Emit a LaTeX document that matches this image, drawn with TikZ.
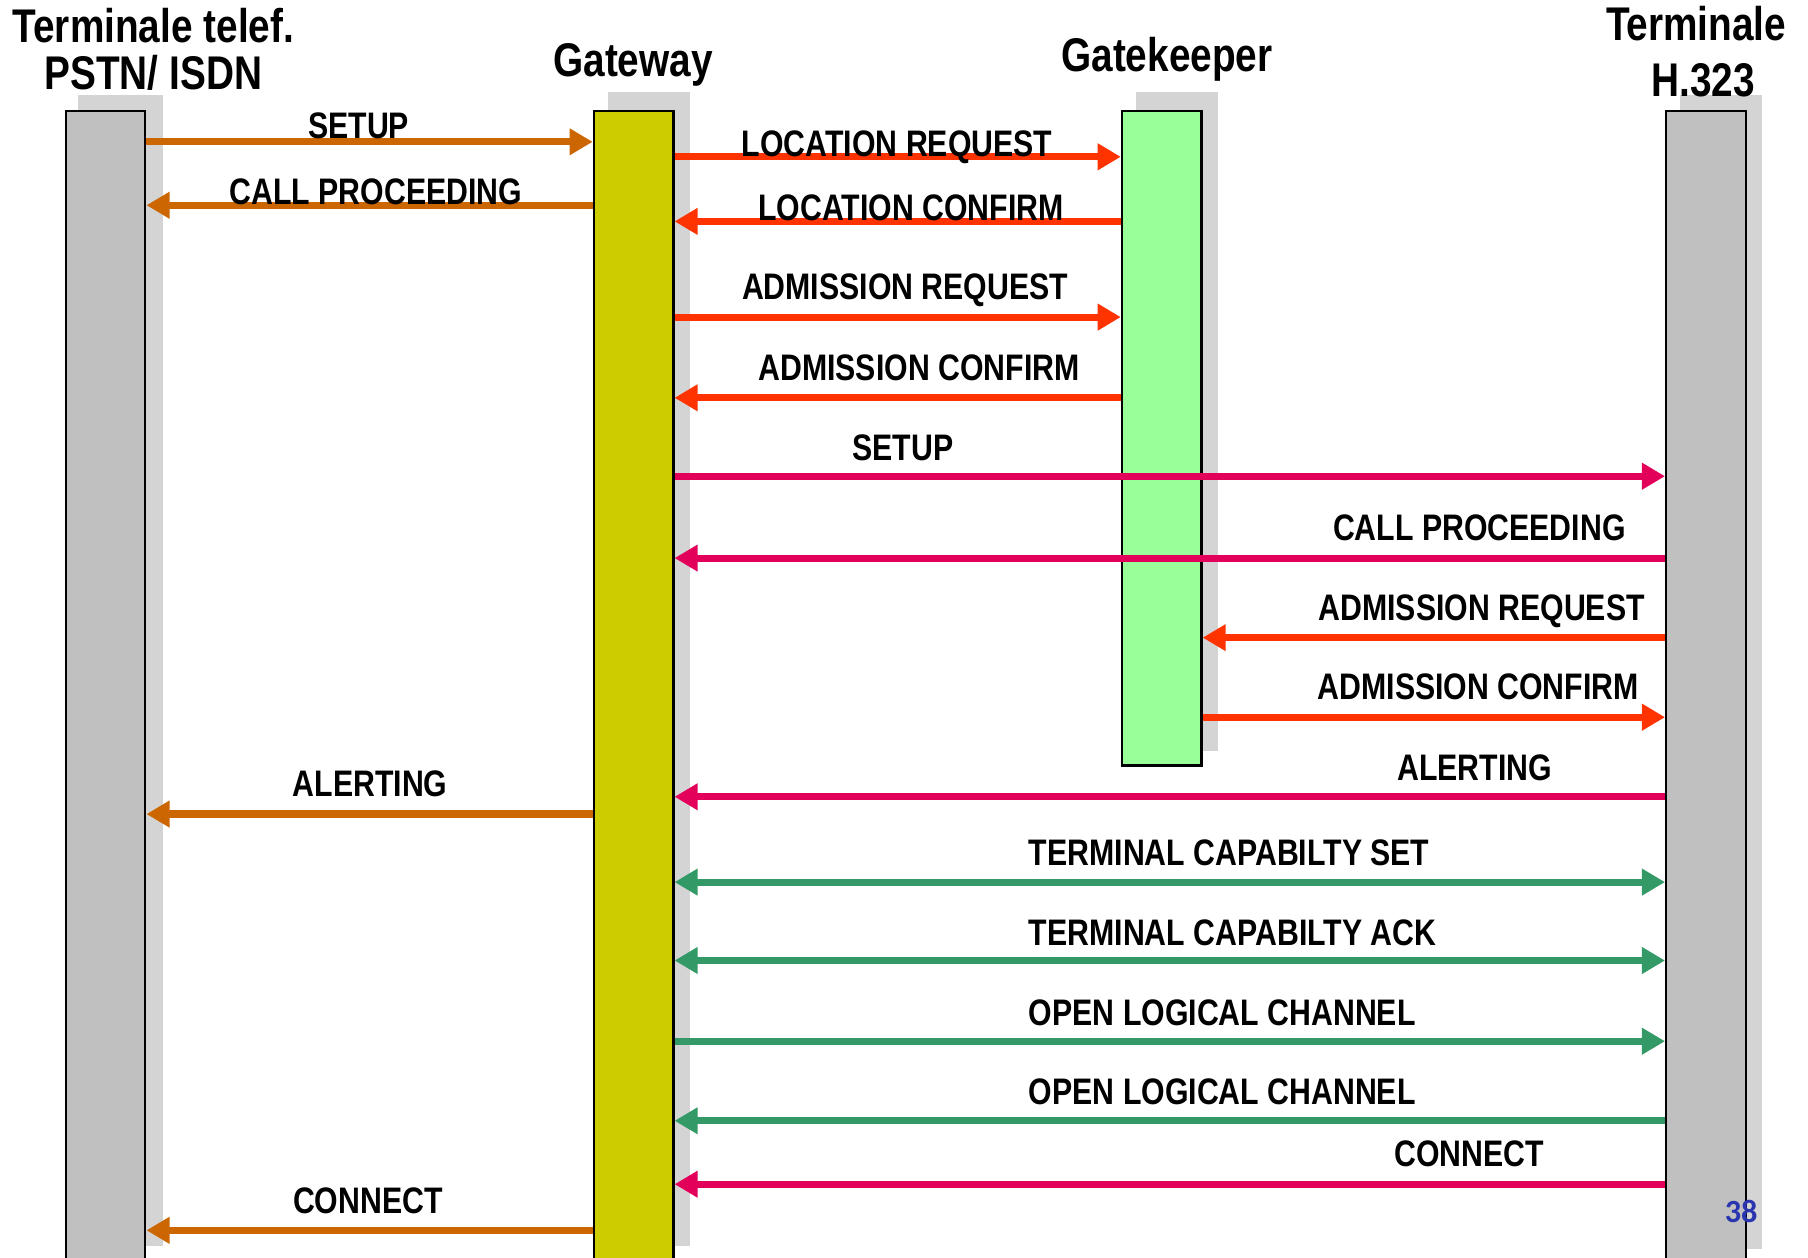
\documentclass[tikz,border=0pt]{standalone}
\usepackage{fontspec}
\setmainfont{Liberation Sans}[FakeStretch=0.82]
\newfontfamily\pagefont{Carlito}
\usetikzlibrary{arrows.meta}
\definecolor{cOrange}{HTML}{CC6600}
\definecolor{cRed}{HTML}{FF3300}
\definecolor{cMag}{HTML}{E3005B}
\definecolor{cGreen}{HTML}{339966}
\definecolor{cYellow}{HTML}{CCCC00}
\definecolor{cLGreen}{HTML}{99FF99}
\definecolor{cGrey}{HTML}{C0C0C0}
\definecolor{cShadow}{HTML}{D4D4D4}
\definecolor{cPage}{HTML}{2A35B0}
\begin{document}
\begin{tikzpicture}[x=0.5pt,y=-0.5pt,
  shadowbar/.style={fill=cShadow,draw=none},
  bar/.style={draw=black,line width=1pt,anchor=north west,inner sep=0pt,minimum width=34.5pt},
  msg/.style={line width=3.1pt,-{Triangle[length=10pt,width=11pt]}},
  bimsg/.style={line width=3.1pt,{Triangle[length=10pt,width=11pt]}-{Triangle[length=10pt,width=11pt]}},
  lbl/.style={anchor=base,inner sep=0pt,font=\fontsize{16}{18}\selectfont\bfseries},
  hdr/.style={anchor=base,inner sep=0pt,font=\fontsize{20.5}{22}\selectfont\bfseries}]
\useasboundingbox (0,0) rectangle (1568,1091);
% shadows
\fill[shadowbar] (68,82) rectangle (141,1081);
\fill[shadowbar] (527,80) rectangle (598,1081);
\fill[shadowbar] (985,80) rectangle (1056,651);
\fill[shadowbar] (1457,82) rectangle (1528,1083);
% bars
\node[bar,fill=cGrey,minimum height=502pt] (pstn) at (56,95) {};
\node[bar,fill=cYellow,minimum height=502pt] (gw) at (514,95) {};
\node[bar,fill=cLGreen,minimum height=284pt] (gk) at (972,95) {};
\node[bar,fill=cGrey,minimum height=502pt] (term) at (1444,95) {};
% headers
\node[hdr] (h1a) at (133,37) {Terminale telef.};
\node[hdr] (h1b) at (133,78) {PSTN/ ISDN};
\node[hdr] (h2) at (549,66) {Gateway};
\node[hdr] (h3) at (1012,62) {Gatekeeper};
\node[hdr] (h4a) at (1471,35) {Terminale};
\node[hdr] (h4b) at (1477,84) {H.323};
% messages
\draw[msg,cOrange] (pstn.east |- 0,123) -- (gw.west |- 0,123);
\draw[msg,cOrange] (gw.west |- 0,178) -- (pstn.east |- 0,178);
\draw[msg,cRed] (gw.east |- 0,136) -- (gk.west |- 0,136);
\draw[msg,cRed] (gk.west |- 0,192) -- (gw.east |- 0,192);
\draw[msg,cRed] (gw.east |- 0,275) -- (gk.west |- 0,275);
\draw[msg,cRed] (gk.west |- 0,345) -- (gw.east |- 0,345);
\draw[msg,cMag] (gw.east |- 0,413) -- (term.west |- 0,413);
\draw[msg,cMag] (term.west |- 0,484) -- (gw.east |- 0,484);
\draw[msg,cRed] (term.west |- 0,553) -- (gk.east |- 0,553);
\draw[msg,cRed] (gk.east |- 0,622) -- (term.west |- 0,622);
\draw[msg,cMag] (term.west |- 0,691) -- (gw.east |- 0,691);
\draw[msg,cOrange] (gw.west |- 0,706) -- (pstn.east |- 0,706);
\draw[bimsg,cGreen] (gw.east |- 0,765) -- (term.west |- 0,765);
\draw[bimsg,cGreen] (gw.east |- 0,833) -- (term.west |- 0,833);
\draw[msg,cGreen] (gw.east |- 0,903) -- (term.west |- 0,903);
\draw[msg,cGreen] (term.west |- 0,972) -- (gw.east |- 0,972);
\draw[msg,cMag] (term.west |- 0,1027) -- (gw.east |- 0,1027);
\draw[msg,cOrange] (gw.west |- 0,1067) -- (pstn.east |- 0,1067);
% labels
\node[lbl] (l1) at (311,120) {SETUP};
\node[lbl] (l2) at (326,177) {CALL PROCEEDING};
\node[lbl] (l3) at (778,136) {LOCATION REQUEST};
\node[lbl] (l4) at (790,191) {LOCATION CONFIRM};
\node[lbl] (l5) at (785,260) {ADMISSION REQUEST};
\node[lbl] (l6) at (797,330) {ADMISSION CONFIRM};
\node[lbl] (l7) at (783,399) {SETUP};
\node[lbl] (l8) at (1283,469) {CALL PROCEEDING};
\node[lbl] (l9) at (1285,538) {ADMISSION REQUEST};
\node[lbl] (l10) at (1282,607) {ADMISSION CONFIRM};
\node[lbl] (l11) at (1279,677) {ALERTING};
\node[lbl] (l12) at (321,691) {ALERTING};
\node[lbl] (l13) at (1066,751) {TERMINAL CAPABILTY SET};
\node[lbl] (l14) at (1069,820) {TERMINAL CAPABILTY ACK};
\node[lbl] (l15) at (1060,889) {OPEN LOGICAL CHANNEL};
\node[lbl] (l16) at (1060,958) {OPEN LOGICAL CHANNEL};
\node[lbl] (l17) at (1274,1012) {CONNECT};
\node[lbl] (l18) at (319,1052) {CONNECT};
\node[anchor=base,inner sep=0pt,text=cPage,font=\pagefont\bfseries\fontsize{14}{16}\selectfont] (pg) at (1510,1060) {38};
\end{tikzpicture}
\end{document}
